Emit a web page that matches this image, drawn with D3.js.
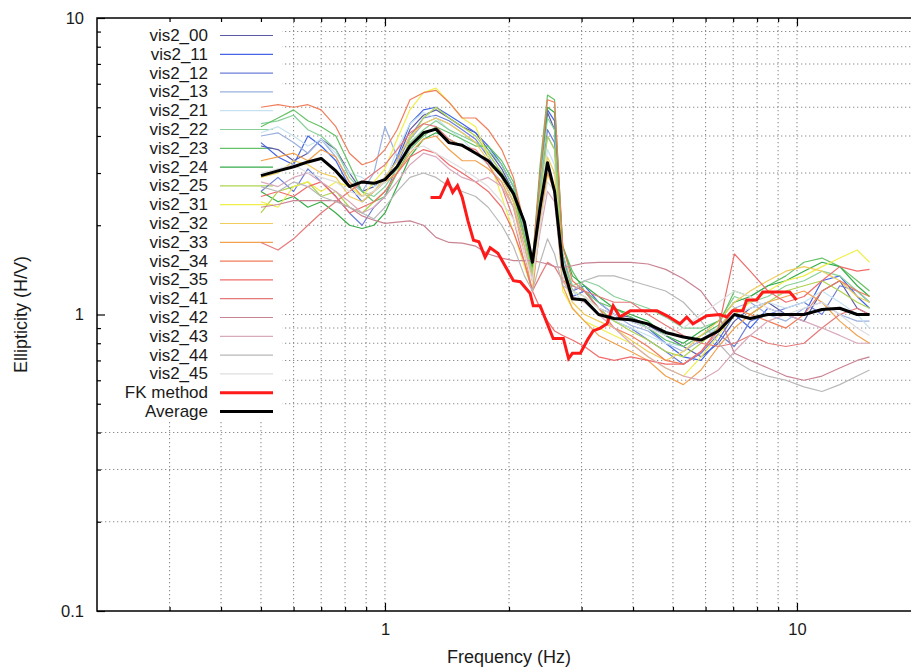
<!DOCTYPE html>
<html>
<head>
<meta charset="utf-8">
<script src="https://cdn.jsdelivr.net/npm/d3@7"></script>
<style>
  body { margin: 0; background: #fff; }
  svg { display: block; font-family: "Liberation Sans", Arial, sans-serif; }
</style>
</head>
<body>
<svg id="chart" width="911" height="668"></svg>
<script>
// frequency samples (Hz) shared by the station curves
const freqs = [0.50, 0.55, 0.60, 0.65, 0.70, 0.76, 0.82, 0.88, 0.94, 1.00,
  1.07, 1.15, 1.24, 1.33, 1.43, 1.54, 1.66, 1.78, 1.92, 2.05,
  2.18, 2.28, 2.38, 2.48, 2.58, 2.70, 2.85, 3.05, 3.30, 3.60,
  3.95, 4.35, 4.80, 5.30, 5.85, 6.45, 7.05, 7.70, 8.50, 9.40,
  10.4, 11.5, 12.7, 14.0, 15.0];

const vis2_00 = [3.7, 3.6, 3.3, 3.5, 3.9, 3.6, 3.0, 2.6, 2.7, 2.9, 3.3, 4.2, 4.7, 4.9, 4.6, 4.3, 4.1, 3.6, 3.1, 2.6, 1.9, 1.4, 2.8, 4.8, 4.2, 1.5, 1.15, 1.2, 1.05, 1.0, 0.98, 0.92, 0.85, 0.78, 0.72, 0.8, 0.95, 1.05, 1.1, 1.0, 0.95, 1.2, 1.3, 1.05, 1.0];
const vis2_11 = [3.8, 3.4, 3.2, 4.0, 3.7, 3.3, 2.7, 2.4, 2.6, 2.8, 3.4, 4.4, 4.9, 5.0, 4.7, 4.4, 4.1, 3.7, 3.2, 2.7, 1.9, 1.3, 3.0, 4.9, 4.5, 1.6, 1.2, 1.25, 1.1, 1.0, 0.95, 0.9, 0.8, 0.72, 0.7, 0.82, 1.0, 0.9, 1.05, 1.0, 1.0, 1.3, 1.35, 1.15, 1.05];
const vis2_12 = [2.6, 2.9, 2.6, 3.1, 2.8, 2.5, 2.2, 2.0, 2.3, 2.5, 3.2, 4.0, 4.6, 4.7, 4.5, 4.2, 3.9, 3.4, 2.9, 2.4, 1.8, 1.4, 2.6, 4.2, 3.8, 1.5, 1.15, 1.2, 1.05, 0.95, 0.9, 0.82, 0.75, 0.68, 0.74, 0.86, 0.78, 0.95, 1.0, 1.05, 1.1, 1.0, 1.25, 1.2, 1.1];
const vis2_13 = [4.0, 4.1, 3.8, 3.5, 3.9, 3.4, 2.8, 2.6, 3.0, 4.3, 3.4, 3.9, 4.4, 4.6, 4.4, 4.1, 3.8, 3.5, 3.0, 2.6, 1.8, 1.4, 2.6, 4.0, 3.6, 1.5, 1.25, 1.2, 1.1, 1.0, 0.92, 0.88, 0.8, 0.75, 0.82, 0.9, 1.05, 1.1, 1.0, 0.95, 1.05, 1.1, 1.0, 0.95, 0.95];
const vis2_21 = [4.1, 4.3, 4.0, 3.7, 3.9, 3.5, 3.0, 2.9, 2.7, 2.8, 3.6, 4.4, 4.8, 4.6, 4.2, 3.9, 3.5, 3.2, 2.8, 2.3, 1.7, 1.35, 2.4, 3.6, 3.2, 1.4, 1.2, 1.1, 1.0, 0.95, 0.9, 0.85, 0.8, 0.78, 0.85, 0.9, 1.0, 1.05, 1.1, 1.05, 1.1, 1.2, 1.1, 1.0, 0.9];
const vis2_22 = [4.4, 4.5, 4.7, 4.2, 4.0, 3.6, 2.9, 2.6, 2.5, 2.7, 3.1, 3.8, 4.2, 4.5, 4.2, 4.0, 3.8, 3.6, 3.2, 2.7, 1.9, 1.4, 2.8, 4.6, 4.2, 1.6, 1.25, 1.3, 1.25, 1.15, 1.1, 1.05, 0.98, 0.9, 0.9, 0.95, 1.15, 1.1, 1.15, 1.25, 1.3, 1.4, 1.35, 1.2, 1.1];
const vis2_23 = [4.3, 4.6, 4.9, 4.5, 4.3, 4.0, 3.2, 2.6, 2.4, 2.5, 3.0, 3.6, 4.0, 4.3, 4.1, 3.9, 3.7, 3.7, 3.3, 2.8, 2.0, 1.5, 3.2, 5.5, 5.3, 1.7, 1.4, 1.2, 1.1, 1.05, 0.98, 0.9, 0.82, 0.78, 0.85, 0.92, 1.2, 1.15, 1.25, 1.35, 1.5, 1.55, 1.45, 1.3, 1.2];
const vis2_24 = [2.6, 2.4, 2.5, 2.3, 2.4, 2.2, 2.0, 1.95, 2.0, 2.2, 2.7, 3.4, 3.9, 4.1, 3.9, 3.7, 3.5, 3.3, 3.0, 2.6, 1.8, 1.45, 3.0, 5.0, 4.8, 1.7, 1.35, 1.25, 1.15, 1.05, 1.0, 0.95, 0.85, 0.8, 0.88, 0.95, 1.1, 1.15, 1.25, 1.3, 1.4, 1.5, 1.45, 1.25, 1.15];
const vis2_25 = [2.2, 2.6, 2.7, 2.8, 2.5, 2.6, 2.3, 2.2, 2.4, 2.6, 3.0, 3.9, 4.6, 5.0, 4.6, 4.3, 4.0, 3.5, 3.0, 2.5, 1.8, 1.35, 2.5, 4.0, 3.6, 1.5, 1.2, 1.15, 1.05, 0.95, 0.88, 0.82, 0.75, 0.72, 0.8, 0.9, 1.05, 1.0, 1.1, 1.2, 1.25, 1.3, 1.2, 1.1, 1.05];
const vis2_31 = [2.4, 2.3, 2.7, 2.8, 2.6, 2.8, 2.7, 2.5, 2.8, 3.1, 3.9, 4.9, 5.6, 5.8, 5.2, 4.6, 4.3, 3.4, 2.5, 1.9, 1.45, 1.2, 2.0, 3.0, 2.7, 1.2, 1.05, 0.95, 0.9, 0.85, 0.8, 0.72, 0.66, 0.62, 0.72, 0.85, 1.0, 1.1, 1.2, 1.3, 1.35, 1.45, 1.55, 1.65, 1.5];
const vis2_32 = [2.9, 3.0, 3.3, 3.2, 3.0, 2.9, 2.5, 2.4, 2.6, 2.9, 3.3, 4.0, 4.4, 4.6, 4.4, 4.1, 3.8, 3.3, 2.9, 2.4, 1.7, 1.3, 2.2, 3.4, 3.0, 1.35, 1.1, 1.0, 0.95, 0.9, 0.82, 0.75, 0.7, 0.75, 0.85, 0.95, 1.1, 1.2, 1.3, 1.4, 1.45, 1.4, 1.3, 1.15, 1.1];
const vis2_33 = [3.3, 3.4, 3.5, 3.3, 3.6, 3.4, 2.8, 2.5, 2.6, 2.8, 3.0, 3.5, 3.9, 4.0, 3.6, 3.3, 3.3, 3.1, 2.8, 2.3, 1.6, 1.2, 2.0, 3.0, 2.6, 1.25, 1.05, 0.95, 0.85, 0.8, 0.75, 0.7, 0.62, 0.58, 0.65, 0.78, 0.9, 1.0, 1.1, 1.15, 1.2, 1.1, 0.95, 0.85, 0.8];
const vis2_34 = [5.0, 5.1, 5.0, 5.1, 4.9, 4.3, 3.5, 3.2, 3.3, 3.6, 4.2, 5.3, 5.6, 5.7, 5.2, 4.6, 4.6, 4.2, 3.6, 2.9, 2.0, 1.5, 3.0, 5.3, 5.2, 1.7, 1.3, 1.2, 1.05, 0.9, 0.85, 0.78, 0.7, 0.68, 0.75, 0.88, 1.05, 1.0, 0.95, 0.9, 1.0, 1.2, 1.3, 1.2, 1.15];
const vis2_35 = [2.5, 2.6, 2.5, 2.7, 2.8, 2.5, 2.2, 2.3, 2.4, 2.6, 3.0, 3.4, 3.6, 3.5, 3.2, 3.0, 2.8, 2.6, 2.3, 1.9, 1.5, 1.2, 1.05, 0.95, 0.88, 0.85, 0.82, 0.78, 0.72, 0.7, 0.72, 0.7, 0.68, 0.68, 0.75, 0.9, 1.6, 1.4, 1.2, 1.1, 1.15, 1.3, 1.45, 1.4, 1.42];
const vis2_41 = [1.75, 1.65, 1.8, 2.0, 2.2, 2.4, 2.6, 2.8, 3.0, 3.2, 3.6, 4.1, 4.4, 4.3, 3.9, 3.7, 3.6, 3.2, 2.7, 2.1, 1.5, 1.2, 1.35, 1.5, 1.45, 1.3, 1.25, 1.2, 1.15, 1.1, 1.1, 1.0, 0.92, 0.85, 0.8, 0.78, 0.8, 0.85, 0.8, 0.78, 0.8, 0.9, 1.0, 1.05, 1.0];
const vis2_42 = [2.3, 2.35, 2.42, 2.42, 2.42, 2.42, 2.3, 2.15, 2.08, 2.03, 2.05, 2.07, 2.0, 1.82, 1.75, 1.74, 1.7, 1.6, 1.55, 1.52, 1.52, 1.52, 1.5, 1.48, 1.45, 1.44, 1.46, 1.49, 1.5, 1.5, 1.5, 1.48, 1.42, 1.32, 1.2, 1.0, 0.74, 0.7, 0.66, 0.62, 0.6, 0.62, 0.66, 0.7, 0.72];
const vis2_43 = [2.8, 2.7, 2.9, 3.0, 2.8, 2.6, 2.4, 2.2, 2.3, 2.5, 2.8, 3.2, 3.5, 3.4, 3.1, 2.9, 2.8, 2.9, 2.7, 2.3, 1.7, 1.3, 1.9, 2.6, 2.4, 1.3, 1.15, 1.1, 1.0, 0.9, 0.8, 0.72, 0.66, 0.62, 0.6, 0.65, 0.75, 0.85, 0.95, 1.0, 0.95, 0.9, 0.85, 0.8, 0.8];
const vis2_44 = [2.7, 2.6, 2.8, 2.7, 2.5, 2.4, 2.3, 2.2, 2.1, 2.3, 2.6, 2.9, 3.0, 2.9, 2.7, 2.6, 2.5, 2.3, 2.0, 1.7, 1.35, 1.2, 1.5, 1.8, 1.6, 1.25, 1.2, 1.3, 1.35, 1.35, 1.3, 1.25, 1.2, 1.1, 0.95, 0.8, 0.7, 0.65, 0.62, 0.6, 0.57, 0.55, 0.58, 0.62, 0.65];
const vis2_45 = [3.0, 3.1, 3.2, 3.0, 2.9, 2.8, 2.6, 2.5, 2.6, 2.8, 3.2, 3.6, 3.7, 3.5, 3.3, 3.1, 2.9, 2.7, 2.4, 2.1, 1.6, 1.3, 2.0, 2.8, 2.6, 1.35, 1.2, 1.15, 1.05, 1.0, 0.95, 0.9, 0.85, 0.9, 1.0, 1.1, 1.2, 1.15, 1.05, 1.0, 1.05, 1.1, 1.0, 0.9, 0.85];

const average = [2.94, 3.05, 3.15, 3.27, 3.36, 3.05, 2.70, 2.80, 2.77, 2.85, 3.15, 3.70, 4.10, 4.22, 3.80, 3.72, 3.50, 3.30, 2.94, 2.56, 2.05, 1.50, 2.30, 3.25, 2.60, 1.45, 1.13, 1.12, 1.00, 0.97, 0.96, 0.93, 0.87, 0.84, 0.82, 0.88, 1.00, 0.97, 1.00, 1.00, 1.00, 1.04, 1.05, 1.00, 1.00];

// FK method has its own frequency sampling
const fkFreqs = [1.29, 1.36, 1.42, 1.46, 1.50, 1.54, 1.59, 1.64, 1.69, 1.75, 1.80, 1.88, 2.05, 2.13, 2.25, 2.29, 2.38, 2.56, 2.71, 2.79, 2.85, 2.98, 3.10, 3.20, 3.33, 3.46, 3.58, 3.72, 3.94, 4.23, 4.57, 4.84, 5.20, 5.40, 5.59, 6.04, 6.50, 6.76, 6.98, 7.39, 7.55, 7.98, 8.26, 8.93, 9.60, 9.98];
const fkValues = [2.48, 2.48, 2.83, 2.58, 2.72, 2.48, 2.07, 1.78, 1.76, 1.56, 1.68, 1.61, 1.30, 1.29, 1.18, 1.07, 1.07, 0.83, 0.83, 0.71, 0.74, 0.74, 0.82, 0.88, 0.90, 0.93, 1.07, 0.98, 1.03, 1.03, 1.03, 0.99, 0.93, 0.98, 0.93, 0.99, 1.0, 0.98, 1.03, 1.03, 1.12, 1.12, 1.19, 1.19, 1.19, 1.12];

const seriesNames = ["vis2_00", "vis2_11", "vis2_12", "vis2_13", "vis2_21", "vis2_22", "vis2_23", "vis2_24", "vis2_25",
  "vis2_31", "vis2_32", "vis2_33", "vis2_34", "vis2_35", "vis2_41", "vis2_42", "vis2_43", "vis2_44", "vis2_45"];
const seriesValues = [vis2_00, vis2_11, vis2_12, vis2_13, vis2_21, vis2_22, vis2_23, vis2_24, vis2_25,
  vis2_31, vis2_32, vis2_33, vis2_34, vis2_35, vis2_41, vis2_42, vis2_43, vis2_44, vis2_45];

const xTickLabels = [1, 10];
const yTickLabels = [0.1, 1, 10];
const xMinor = [0.3, 0.4, 0.5, 0.6, 0.7, 0.8, 0.9, 2, 3, 4, 5, 6, 7, 8, 9];
const yMinor = [0.2, 0.3, 0.4, 0.5, 0.6, 0.7, 0.8, 0.9, 2, 3, 4, 5, 6, 7, 8, 9];

// line colours, in legend order
const colors = ["#5b5ba6", "#4466e6", "#6c7ed8", "#9ab0e0", "#c6e2f0", "#88d098", "#66c266", "#36ad48", "#add44e",
  "#efef4c", "#f0cd5c", "#f2a24e", "#f07e5c", "#f06c6c", "#e67a7a", "#c98494", "#d9aabb", "#b8b8b8", "#dedede"];

const box = { left: 97, right: 921, top: 18, bottom: 611 };

const x = d3.scaleLog().domain([0.2, 20]).range([box.left, box.right]);
const y = d3.scaleLog().domain([0.1, 10]).range([box.bottom, box.top]);

const svg = d3.select("svg#chart");

// dotted grid
const grid = svg.append("g")
  .attr("stroke", "#8c8c8c")
  .attr("stroke-width", 1.1)
  .attr("stroke-dasharray", "1.3,2.7");

grid.selectAll(".vx")
  .data(xMinor.concat(xTickLabels))
  .enter().append("line")
  .attr("x1", d => x(d)).attr("x2", d => x(d))
  .attr("y1", box.top).attr("y2", box.bottom);

grid.selectAll(".hy")
  .data(yMinor.concat([1]))
  .enter().append("line")
  .attr("x1", box.left).attr("x2", box.right)
  .attr("y1", d => y(d)).attr("y2", d => y(d));

// opaque key box
svg.append("rect")
  .attr("x", box.left + 1).attr("y", box.top + 1)
  .attr("width", 184).attr("height", 403)
  .attr("fill", "#fff");

// key
const keyEntries = seriesNames.map((n, i) => ({ name: n, color: colors[i], width: 1.2 }))
  .concat([{ name: "FK method", color: "#ff1a1a", width: 3 }, { name: "Average", color: "#000", width: 3 }]);

const key = svg.append("g").selectAll("g")
  .data(keyEntries)
  .enter().append("g")
  .attr("transform", (d, i) => "translate(0," + (35.5 + i * 18.8) + ")");

key.append("text")
  .attr("x", 208)
  .attr("text-anchor", "end")
  .attr("dominant-baseline", "central")
  .attr("font-size", 17)
  .attr("fill", "#1a1a1a")
  .text(d => d.name);

key.append("line")
  .attr("x1", 220).attr("x2", 273)
  .attr("stroke", d => d.color)
  .attr("stroke-width", d => d.width);

// curves
const line = d3.line()
  .x(d => x(d[0]))
  .y(d => y(d[1]));

svg.append("g").selectAll("path")
  .data(seriesValues)
  .enter().append("path")
  .attr("d", d => line(d3.zip(freqs, d)))
  .attr("fill", "none")
  .attr("stroke", (d, i) => colors[i])
  .attr("stroke-width", 1.2)
  .attr("stroke-linejoin", "round");

svg.append("path")
  .attr("d", line(d3.zip(fkFreqs, fkValues)))
  .attr("fill", "none")
  .attr("stroke", "#ff1a1a")
  .attr("stroke-width", 3);

svg.append("path")
  .attr("d", line(d3.zip(freqs, average)))
  .attr("fill", "none")
  .attr("stroke", "#000")
  .attr("stroke-width", 3)
  .attr("stroke-linejoin", "round");

// axes: ticks point inward, mirrored on top
const styleAxis = g => {
  g.select(".domain").remove();
  g.selectAll("line").attr("stroke", "#000").attr("stroke-width", 1.2);
  g.selectAll("text").attr("font-size", 16.5).attr("fill", "#1a1a1a")
    .attr("font-family", "'Liberation Sans', Arial, sans-serif");
};

svg.append("g")
  .attr("transform", "translate(0," + box.bottom + ")")
  .call(d3.axisBottom(x).tickValues(xTickLabels).tickSize(-8).tickPadding(12).tickFormat(d3.format("")))
  .call(styleAxis);

svg.append("g")
  .attr("transform", "translate(0," + box.bottom + ")")
  .call(d3.axisBottom(x).tickValues(xMinor).tickSize(-4).tickFormat(""))
  .call(styleAxis);

svg.append("g")
  .attr("transform", "translate(0," + box.top + ")")
  .call(d3.axisTop(x).tickValues(xTickLabels).tickSize(-8).tickFormat(""))
  .call(styleAxis);

svg.append("g")
  .attr("transform", "translate(0," + box.top + ")")
  .call(d3.axisTop(x).tickValues(xMinor).tickSize(-4).tickFormat(""))
  .call(styleAxis);

svg.append("g")
  .attr("transform", "translate(" + box.left + ",0)")
  .call(d3.axisLeft(y).tickValues(yTickLabels).tickSize(-8).tickPadding(13).tickFormat(d3.format("")))
  .call(styleAxis);

svg.append("g")
  .attr("transform", "translate(" + box.left + ",0)")
  .call(d3.axisLeft(y).tickValues(yMinor).tickSize(-4).tickFormat(""))
  .call(styleAxis);

// border
svg.append("rect")
  .attr("x", box.left).attr("y", box.top)
  .attr("width", box.right - box.left).attr("height", box.bottom - box.top)
  .attr("fill", "none")
  .attr("stroke", "#000")
  .attr("stroke-width", 1.5);

// axis titles
svg.append("text")
  .attr("x", (box.left + box.right) / 2)
  .attr("y", 663)
  .attr("text-anchor", "middle")
  .attr("font-size", 18)
  .attr("fill", "#1a1a1a")
  .text("Frequency (Hz)");

svg.append("text")
  .attr("transform", "translate(21," + ((box.top + box.bottom) / 2) + ") rotate(-90)")
  .attr("text-anchor", "middle")
  .attr("dominant-baseline", "central")
  .attr("font-size", 18)
  .attr("fill", "#1a1a1a")
  .text("Ellipticity (H/V)");
</script>
</body>
</html>
